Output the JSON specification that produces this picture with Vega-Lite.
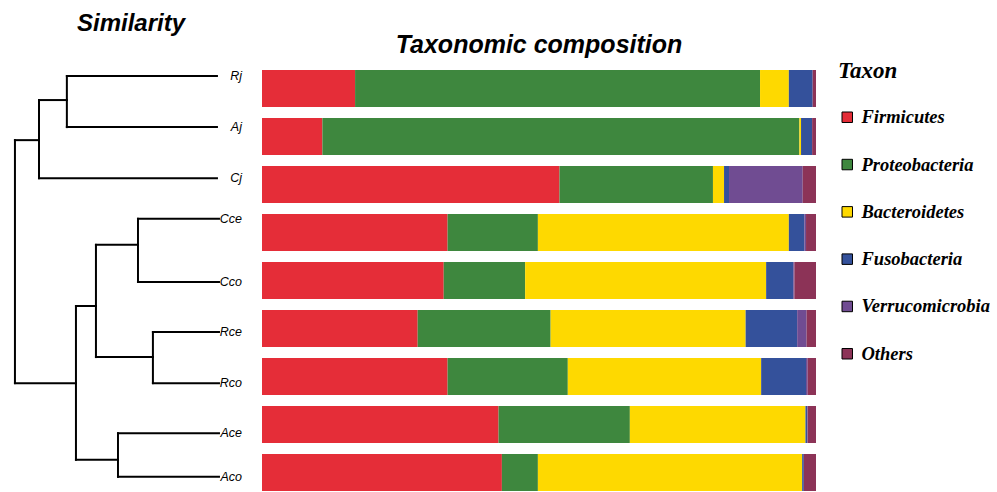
{
  "$schema": "https://vega.github.io/schema/vega-lite/v6.json",
  "padding": {"left": 0, "top": 12, "right": 0, "bottom": 0},
  "spacing": 0,
  "bounds": "flush",
  "background": "white",
  "config": {"view": {"stroke": null}, "concat": {"spacing": 0}},
  "datasets": {
    "tree": [
      {"d1": 0.743, "d2": 0, "y1": 0, "y2": 0},
      {"d1": 0.743, "d2": 0, "y1": 1.02, "y2": 1.02},
      {"d1": 0.881, "d2": 0, "y1": 2.04, "y2": 2.04},
      {"d1": 0.391, "d2": -0.01, "y1": 2.85, "y2": 2.85},
      {"d1": 0.391, "d2": -0.01, "y1": 4.11, "y2": 4.11},
      {"d1": 0.317, "d2": -0.01, "y1": 5.11, "y2": 5.11},
      {"d1": 0.317, "d2": -0.01, "y1": 6.13, "y2": 6.13},
      {"d1": 0.49, "d2": -0.01, "y1": 7.13, "y2": 7.13},
      {"d1": 0.49, "d2": -0.01, "y1": 8.0, "y2": 8.0},
      {"d1": 0.743, "d2": 0.743, "y1": 0, "y2": 1.02},
      {"d1": 0.881, "d2": 0.881, "y1": 0.48, "y2": 2.04},
      {"d1": 0.391, "d2": 0.391, "y1": 2.85, "y2": 4.11},
      {"d1": 0.317, "d2": 0.317, "y1": 5.11, "y2": 6.13},
      {"d1": 0.599, "d2": 0.599, "y1": 3.37, "y2": 5.61},
      {"d1": 0.49, "d2": 0.49, "y1": 7.13, "y2": 8.0},
      {"d1": 0.698, "d2": 0.698, "y1": 4.59, "y2": 7.66},
      {"d1": 1.0, "d2": 1.0, "y1": 1.28, "y2": 6.13},
      {"d1": 0.881, "d2": 0.743, "y1": 0.48, "y2": 0.48},
      {"d1": 1.0, "d2": 0.881, "y1": 1.28, "y2": 1.28},
      {"d1": 0.599, "d2": 0.391, "y1": 3.37, "y2": 3.37},
      {"d1": 0.599, "d2": 0.317, "y1": 5.61, "y2": 5.61},
      {"d1": 0.698, "d2": 0.599, "y1": 4.59, "y2": 4.59},
      {"d1": 0.698, "d2": 0.49, "y1": 7.66, "y2": 7.66},
      {"d1": 1.0, "d2": 0.698, "y1": 6.13, "y2": 6.13}
    ],
    "leaves": [
      {"name": "Rj", "d": 0, "y": 0},
      {"name": "Aj", "d": 0, "y": 1.02},
      {"name": "Cj", "d": 0, "y": 2.04},
      {"name": "Cce", "d": 0, "y": 2.85},
      {"name": "Cco", "d": 0, "y": 4.11},
      {"name": "Rce", "d": 0, "y": 5.11},
      {"name": "Rco", "d": 0, "y": 6.13},
      {"name": "Ace", "d": 0, "y": 7.13},
      {"name": "Aco", "d": 0, "y": 8.0}
    ],
    "comp": [
      {"sample": "Rj", "taxon": "Firmicutes", "k": 1, "value": 16.8},
      {"sample": "Rj", "taxon": "Proteobacteria", "k": 2, "value": 73.1},
      {"sample": "Rj", "taxon": "Bacteroidetes", "k": 3, "value": 5.2},
      {"sample": "Rj", "taxon": "Fusobacteria", "k": 4, "value": 4.3},
      {"sample": "Rj", "taxon": "Verrucomicrobia", "k": 5, "value": 0.0},
      {"sample": "Rj", "taxon": "Others", "k": 6, "value": 0.6},
      {"sample": "Aj", "taxon": "Firmicutes", "k": 1, "value": 10.9},
      {"sample": "Aj", "taxon": "Proteobacteria", "k": 2, "value": 86.1},
      {"sample": "Aj", "taxon": "Bacteroidetes", "k": 3, "value": 0.3},
      {"sample": "Aj", "taxon": "Fusobacteria", "k": 4, "value": 2.0},
      {"sample": "Aj", "taxon": "Verrucomicrobia", "k": 5, "value": 0.0},
      {"sample": "Aj", "taxon": "Others", "k": 6, "value": 0.7},
      {"sample": "Cj", "taxon": "Firmicutes", "k": 1, "value": 53.7},
      {"sample": "Cj", "taxon": "Proteobacteria", "k": 2, "value": 27.7},
      {"sample": "Cj", "taxon": "Bacteroidetes", "k": 3, "value": 2.0},
      {"sample": "Cj", "taxon": "Fusobacteria", "k": 4, "value": 0.9},
      {"sample": "Cj", "taxon": "Verrucomicrobia", "k": 5, "value": 13.3},
      {"sample": "Cj", "taxon": "Others", "k": 6, "value": 2.4},
      {"sample": "Cce", "taxon": "Firmicutes", "k": 1, "value": 33.5},
      {"sample": "Cce", "taxon": "Proteobacteria", "k": 2, "value": 16.3},
      {"sample": "Cce", "taxon": "Bacteroidetes", "k": 3, "value": 45.3},
      {"sample": "Cce", "taxon": "Fusobacteria", "k": 4, "value": 2.8},
      {"sample": "Cce", "taxon": "Verrucomicrobia", "k": 5, "value": 0.3},
      {"sample": "Cce", "taxon": "Others", "k": 6, "value": 1.8},
      {"sample": "Cco", "taxon": "Firmicutes", "k": 1, "value": 32.8},
      {"sample": "Cco", "taxon": "Proteobacteria", "k": 2, "value": 14.7},
      {"sample": "Cco", "taxon": "Bacteroidetes", "k": 3, "value": 43.5},
      {"sample": "Cco", "taxon": "Fusobacteria", "k": 4, "value": 4.9},
      {"sample": "Cco", "taxon": "Verrucomicrobia", "k": 5, "value": 0.2},
      {"sample": "Cco", "taxon": "Others", "k": 6, "value": 3.9},
      {"sample": "Rce", "taxon": "Firmicutes", "k": 1, "value": 28.1},
      {"sample": "Rce", "taxon": "Proteobacteria", "k": 2, "value": 24.0},
      {"sample": "Rce", "taxon": "Bacteroidetes", "k": 3, "value": 35.2},
      {"sample": "Rce", "taxon": "Fusobacteria", "k": 4, "value": 9.3},
      {"sample": "Rce", "taxon": "Verrucomicrobia", "k": 5, "value": 1.7},
      {"sample": "Rce", "taxon": "Others", "k": 6, "value": 1.7},
      {"sample": "Rco", "taxon": "Firmicutes", "k": 1, "value": 33.5},
      {"sample": "Rco", "taxon": "Proteobacteria", "k": 2, "value": 21.7},
      {"sample": "Rco", "taxon": "Bacteroidetes", "k": 3, "value": 34.9},
      {"sample": "Rco", "taxon": "Fusobacteria", "k": 4, "value": 8.1},
      {"sample": "Rco", "taxon": "Verrucomicrobia", "k": 5, "value": 0.3},
      {"sample": "Rco", "taxon": "Others", "k": 6, "value": 1.5},
      {"sample": "Ace", "taxon": "Firmicutes", "k": 1, "value": 42.7},
      {"sample": "Ace", "taxon": "Proteobacteria", "k": 2, "value": 23.7},
      {"sample": "Ace", "taxon": "Bacteroidetes", "k": 3, "value": 31.7},
      {"sample": "Ace", "taxon": "Fusobacteria", "k": 4, "value": 0.3},
      {"sample": "Ace", "taxon": "Verrucomicrobia", "k": 5, "value": 0.1},
      {"sample": "Ace", "taxon": "Others", "k": 6, "value": 1.5},
      {"sample": "Aco", "taxon": "Firmicutes", "k": 1, "value": 43.3},
      {"sample": "Aco", "taxon": "Proteobacteria", "k": 2, "value": 6.5},
      {"sample": "Aco", "taxon": "Bacteroidetes", "k": 3, "value": 47.7},
      {"sample": "Aco", "taxon": "Fusobacteria", "k": 4, "value": 0.3},
      {"sample": "Aco", "taxon": "Verrucomicrobia", "k": 5, "value": 0.0},
      {"sample": "Aco", "taxon": "Others", "k": 6, "value": 2.2}
    ]
  },
  "hconcat": [
    {
      "width": 262,
      "height": 421,
      "title": {"text": "Similarity", "font": "Liberation Sans", "fontSize": 24, "fontWeight": "bold", "fontStyle": "italic", "anchor": "middle", "offset": 34, "color": "black"},
      "layer": [
        {
          "data": {"name": "tree"},
          "mark": {"type": "rule", "strokeWidth": 2, "color": "black", "strokeCap": "square"},
          "encoding": {
            "x": {"field": "d1", "type": "quantitative", "scale": {"domain": [-0.223, 1.074], "reverse": true, "nice": false, "zero": false}, "axis": null},
            "x2": {"field": "d2"},
            "y": {"field": "y1", "type": "quantitative", "scale": {"domain": [-0.12, 8.283], "reverse": true, "nice": false, "zero": false}, "axis": null},
            "y2": {"field": "y2"}
          }
        },
        {
          "data": {"name": "leaves"},
          "mark": {"type": "text", "align": "right", "baseline": "middle", "dx": 25, "font": "Liberation Sans", "fontStyle": "italic", "fontSize": 12.5, "color": "black"},
          "encoding": {
            "x": {"field": "d", "type": "quantitative"},
            "y": {"field": "y", "type": "quantitative"},
            "text": {"field": "name"}
          }
        }
      ]
    },
    {
      "width": 554,
      "height": 421,
      "title": {"text": "Taxonomic composition", "font": "Liberation Sans", "fontSize": 25, "fontWeight": "bold", "fontStyle": "italic", "anchor": "middle", "offset": 12, "color": "black"},
      "data": {"name": "comp"},
      "mark": {"type": "bar"},
      "encoding": {
        "y": {"field": "sample", "type": "nominal", "sort": ["Rj", "Aj", "Cj", "Cce", "Cco", "Rce", "Rco", "Ace", "Aco"], "scale": {"paddingInner": 0.229, "paddingOuter": 0}, "axis": null},
        "x": {"field": "value", "type": "quantitative", "stack": "zero", "scale": {"domain": [0, 100], "nice": false}, "axis": null},
        "order": {"field": "k", "type": "quantitative", "sort": "ascending"},
        "color": {
          "field": "taxon",
          "type": "nominal",
          "sort": ["Firmicutes", "Proteobacteria", "Bacteroidetes", "Fusobacteria", "Verrucomicrobia", "Others"],
          "scale": {
            "domain": ["Firmicutes", "Proteobacteria", "Bacteroidetes", "Fusobacteria", "Verrucomicrobia", "Others"],
            "range": ["#e52d38", "#3e873e", "#fed900", "#34519b", "#704c92", "#8c3357"]
          },
          "legend": {
            "title": "Taxon",
            "orient": "none",
            "legendX": 838,
            "legendY": -10,
            "titleFont": "Liberation Serif",
            "titleFontSize": 23,
            "titleFontWeight": "bold",
            "titleFontStyle": "italic",
            "titleColor": "black",
            "titlePadding": 25,
            "titleAnchor": "start",
            "labelFont": "Liberation Serif",
            "labelFontSize": 18.5,
            "labelFontWeight": "bold",
            "labelFontStyle": "italic",
            "labelColor": "black",
            "labelOffset": 5,
            "symbolType": "square",
            "symbolSize": 110,
            "symbolStrokeColor": "black",
            "symbolStrokeWidth": 1,
            "symbolOpacity": 1,
            "rowPadding": 28.3
          }
        }
      }
    }
  ]
}
